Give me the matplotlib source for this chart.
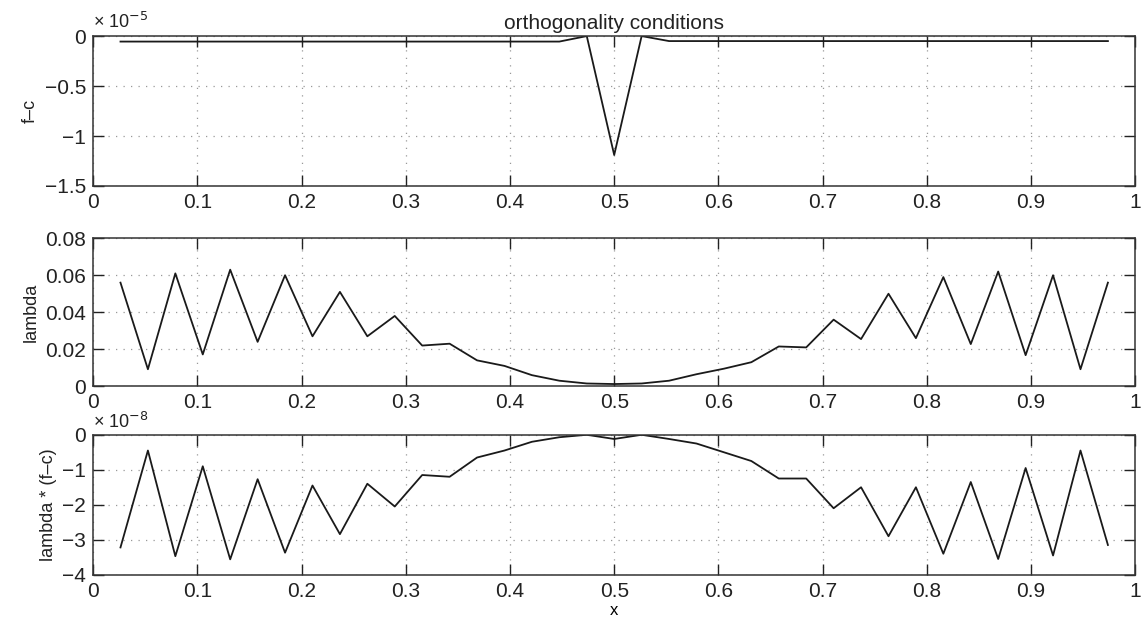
import matplotlib
matplotlib.use('Agg')
import matplotlib.pyplot as plt
import numpy as np
from matplotlib.ticker import FuncFormatter

plt.rcParams['font.family'] = ['Liberation Sans', 'DejaVu Sans']

# grid points x = k/38, k = 1..37
x = np.arange(1, 38) / 38.0

# f - c   (units of 1e-5)
fc = [-0.055, -0.055, -0.055, -0.055, -0.055, -0.055, -0.055, -0.055, -0.055, -0.055,
      -0.055, -0.055, -0.055, -0.055, -0.055, -0.055, -0.055, 0.0, -1.19, 0.0,
      -0.05, -0.05, -0.05, -0.05, -0.05, -0.05, -0.05, -0.05, -0.05, -0.05,
      -0.05, -0.05, -0.05, -0.05, -0.05, -0.05, -0.05]

# lambda
lam = [0.056, 0.0092, 0.061, 0.0172, 0.063, 0.024, 0.060, 0.027, 0.051, 0.027,
       0.038, 0.022, 0.023, 0.014, 0.011, 0.006, 0.003, 0.0015, 0.0012, 0.0015,
       0.003, 0.0065, 0.0095, 0.013, 0.0215, 0.021, 0.036, 0.0255, 0.050, 0.026,
       0.059, 0.0228, 0.062, 0.0168, 0.060, 0.0092, 0.056]

# lambda * (f - c)   (units of 1e-8)
lamfc = [-3.22, -0.45, -3.47, -0.9, -3.56, -1.27, -3.37, -1.45, -2.84, -1.4,
         -2.05, -1.15, -1.2, -0.65, -0.45, -0.2, -0.07, 0.0, -0.12, 0.0,
         -0.12, -0.25, -0.5, -0.75, -1.25, -1.25, -2.1, -1.5, -2.9, -1.5,
         -3.4, -1.35, -3.55, -0.95, -3.45, -0.45, -3.15]

xticks = np.arange(0, 1.01, 0.1)


def num(v, scale=1.0):
    return ('%g' % round(v / scale, 6)).replace('-', '\u2212')


fig = plt.figure(figsize=(11.46, 6.22), dpi=100)
left, width = 0.0812, 0.9095
ax1 = fig.add_axes([left, 0.701, width, 0.241])
ax2 = fig.add_axes([left, 0.379, width, 0.238])
ax3 = fig.add_axes([left, 0.076, width, 0.225])


def style(ax, yticks, ylabel, scale=1.0):
    ax.set_xlim(0, 1)
    ax.set_xticks(xticks)
    ax.set_yticks(yticks)
    ax.set_ylim(yticks[0], yticks[-1])
    ax.xaxis.set_major_formatter(FuncFormatter(lambda v, p: num(v)))
    ax.yaxis.set_major_formatter(FuncFormatter(lambda v, p: num(v, scale)))
    ax.grid(True, linestyle=(0, (1, 5)), color='#999999', linewidth=0.9)
    ax.tick_params(direction='in', length=8, width=1.0, top=True, right=True,
                   labelsize=15, pad=5, colors='#222222')
    for s in ax.spines.values():
        s.set_linewidth(1.1)
        s.set_color('#333333')
    ax.set_ylabel(ylabel, fontsize=13, labelpad=4, color='#222222')


ax1.plot(x, np.array(fc) * 1e-5, color='#1a1a1a', linewidth=1.3)
style(ax1, [-1.5e-5, -1e-5, -0.5e-5, 0], 'f\u2013c', 1e-5)
ax1.text(0, 1.025, '\u00d7 10$^{-5}$', transform=ax1.transAxes, fontsize=13,
         ha='left', va='bottom', color='#222222')
ax1.set_title('orthogonality conditions', fontsize=15, pad=5, color='#222222')

ax2.plot(x, lam, color='#1a1a1a', linewidth=1.3)
style(ax2, [0, 0.02, 0.04, 0.06, 0.08], 'lambda')

ax3.plot(x, np.array(lamfc) * 1e-8, color='#1a1a1a', linewidth=1.3)
style(ax3, [-4e-8, -3e-8, -2e-8, -1e-8, 0], 'lambda * (f\u2013c)', 1e-8)
ax3.text(0, 1.02, '\u00d7 10$^{-8}$', transform=ax3.transAxes, fontsize=13,
         ha='left', va='bottom', color='#222222')
ax3.set_xlabel('x', fontsize=12, labelpad=2)

fig.savefig('out.png', dpi=100)
